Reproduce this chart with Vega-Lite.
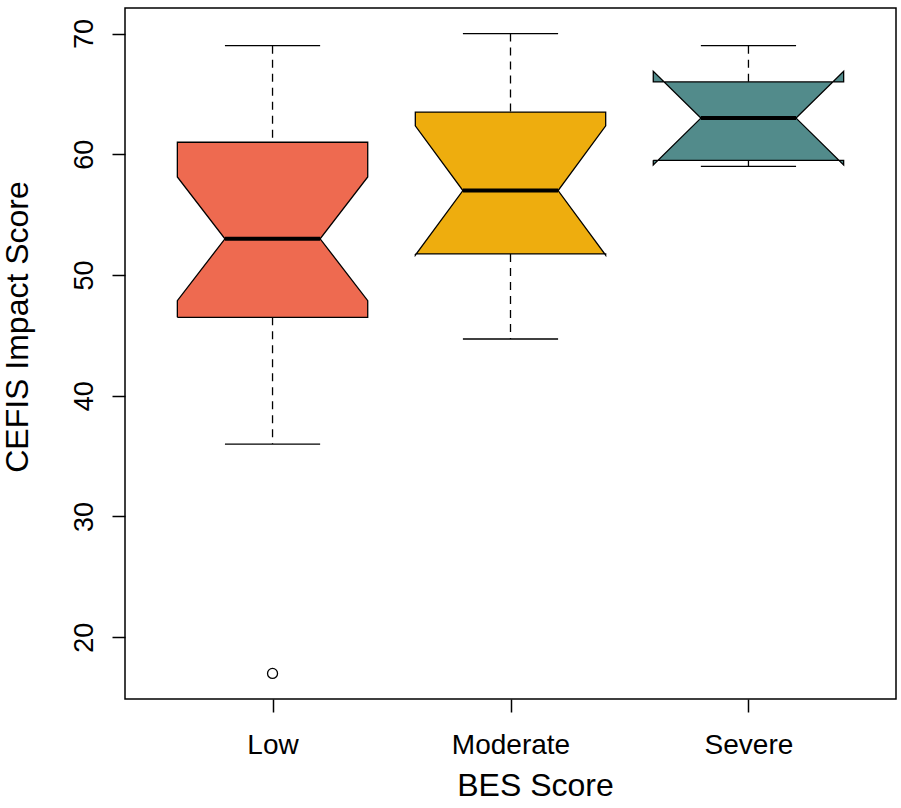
{
  "$schema": "https://vega.github.io/schema/vega-lite/v6.json",
  "width": 771,
  "height": 691,
  "autosize": {"type": "none"},
  "padding": {"left": 125, "top": 8, "right": 5, "bottom": 109},
  "background": "white",
  "datasets": {
    "stats": [
      {"group": "Low", "lower": 36, "q1": 46.5, "conf_lo": 47.88, "median": 53, "conf_hi": 58.12, "q3": 61, "upper": 69},
      {"group": "Moderate", "lower": 44.7, "q1": 51.75, "conf_lo": 51.64, "median": 57, "conf_hi": 62.36, "q3": 63.5, "upper": 70},
      {"group": "Severe", "lower": 59, "q1": 59.5, "conf_lo": 59.12, "median": 63, "conf_hi": 66.88, "q3": 66, "upper": 69}
    ],
    "outliers": [{"group": "Low", "value": 17}]
  },
  "config": {
    "view": {"stroke": "black", "strokeWidth": 1.5},
    "font": "Liberation Sans",
    "axis": {
      "grid": false,
      "domain": false,
      "ticks": true,
      "tickColor": "black",
      "tickWidth": 1.5,
      "tickSize": 13,
      "labelFont": "Liberation Sans",
      "labelFontSize": 27,
      "labelColor": "black",
      "labelFlush": false,
      "labelOverlap": false,
      "titleFont": "Liberation Sans",
      "titleFontSize": 32,
      "titleFontWeight": "normal",
      "titleColor": "black"
    }
  },
  "layer": [
    {
      "data": {"name": "stats"},
      "transform": [{"calculate": "indexof(['Low','Moderate','Severe'], datum.group) + 1", "as": "pos"}],
      "mark": {"type": "rule", "stroke": "black", "strokeWidth": 1.3, "strokeDash": [8, 6]},
      "encoding": {
        "x": {
          "field": "pos", "type": "quantitative",
          "scale": {"domain": [0.38, 3.62], "nice": false, "zero": false},
          "axis": {
            "values": [1, 2, 3],
            "labelExpr": "['', 'Low', 'Moderate', 'Severe'][datum.value]",
            "labelFontSize": 28,
            "labelBaseline": "alphabetic",
            "labelPadding": 41,
            "title": "BES Score",
            "titleX": 410,
            "titleY": 96,
            "titleAlign": "center",
            "titleBaseline": "alphabetic"
          }
        },
        "y": {
          "field": "upper", "type": "quantitative",
          "scale": {"domain": [14.88, 72.12], "nice": false, "zero": false},
          "axis": {
            "values": [20, 30, 40, 50, 60, 70],
            "labelAngle": -90,
            "labelAlign": "center",
            "labelBaseline": "alphabetic",
            "labelPadding": 20,
            "title": "CEFIS Impact Score",
            "titleAngle": -90,
            "titleX": -97.5,
            "titleY": 318.5,
            "titleAlign": "center",
            "titleBaseline": "alphabetic"
          }
        },
        "y2": {"field": "q3"}
      }
    },
    {
      "data": {"name": "stats"},
      "transform": [{"calculate": "indexof(['Low','Moderate','Severe'], datum.group) + 1", "as": "pos"}],
      "mark": {"type": "rule", "stroke": "black", "strokeWidth": 1.3, "strokeDash": [8, 6]},
      "encoding": {
        "x": {"field": "pos", "type": "quantitative", "title": "BES Score"},
        "y": {"field": "q1", "type": "quantitative", "title": "CEFIS Impact Score"},
        "y2": {"field": "lower"}
      }
    },
    {
      "data": {"name": "stats"},
      "transform": [
        {"calculate": "indexof(['Low','Moderate','Severe'], datum.group) + 1", "as": "pos"},
        {"fold": ["upper", "lower"], "as": ["end", "v"]},
        {"calculate": "datum.pos - 0.2", "as": "sx"},
        {"calculate": "datum.pos + 0.2", "as": "sx2"}
      ],
      "mark": {"type": "rule", "stroke": "black", "strokeWidth": 1.3},
      "encoding": {
        "x": {"field": "sx", "type": "quantitative", "title": "BES Score"},
        "x2": {"field": "sx2"},
        "y": {"field": "v", "type": "quantitative", "title": "CEFIS Impact Score"}
      }
    },
    {
      "data": {"name": "stats"},
      "transform": [
        {"calculate": "indexof(['Low','Moderate','Severe'], datum.group) + 1", "as": "pos"},
        {"fold": ["q1", "q1", "conf_lo", "median", "conf_hi", "q3", "q3", "conf_hi", "median", "conf_lo", "q1"], "as": ["stat", "v"]},
        {"window": [{"op": "row_number", "as": "k"}], "groupby": ["group"]},
        {"calculate": "[-1, 1, 1, 0.5, 1, 1, -1, -1, -0.5, -1, -1][datum.k - 1]", "as": "side"},
        {"calculate": "datum.pos + 0.4 * datum.side", "as": "px"}
      ],
      "mark": {"type": "line", "filled": true, "stroke": "black", "strokeWidth": 1.3, "strokeJoin": "miter", "interpolate": "linear"},
      "encoding": {
        "x": {"field": "px", "type": "quantitative", "title": "BES Score"},
        "y": {"field": "v", "type": "quantitative", "title": "CEFIS Impact Score"},
        "order": {"field": "k", "type": "quantitative"},
        "detail": {"field": "group"},
        "color": {
          "field": "group", "type": "nominal",
          "scale": {"domain": ["Low", "Moderate", "Severe"], "range": ["#EE6A50", "#EEAD0E", "#528B8B"]},
          "legend": null
        }
      }
    },
    {
      "data": {"name": "stats"},
      "transform": [
        {"calculate": "indexof(['Low','Moderate','Severe'], datum.group) + 1", "as": "pos"},
        {"calculate": "datum.pos - 0.2", "as": "mx"},
        {"calculate": "datum.pos + 0.2", "as": "mx2"}
      ],
      "mark": {"type": "rule", "stroke": "black", "strokeWidth": 4, "strokeCap": "butt"},
      "encoding": {
        "x": {"field": "mx", "type": "quantitative", "title": "BES Score"},
        "x2": {"field": "mx2"},
        "y": {"field": "median", "type": "quantitative", "title": "CEFIS Impact Score"}
      }
    },
    {
      "data": {"name": "outliers"},
      "transform": [{"calculate": "indexof(['Low','Moderate','Severe'], datum.group) + 1", "as": "pos"}],
      "mark": {"type": "point", "shape": "circle", "filled": false, "stroke": "black", "strokeWidth": 1.3, "size": 100, "opacity": 1},
      "encoding": {
        "x": {"field": "pos", "type": "quantitative", "title": "BES Score"},
        "y": {"field": "value", "type": "quantitative", "title": "CEFIS Impact Score"}
      }
    }
  ]
}
